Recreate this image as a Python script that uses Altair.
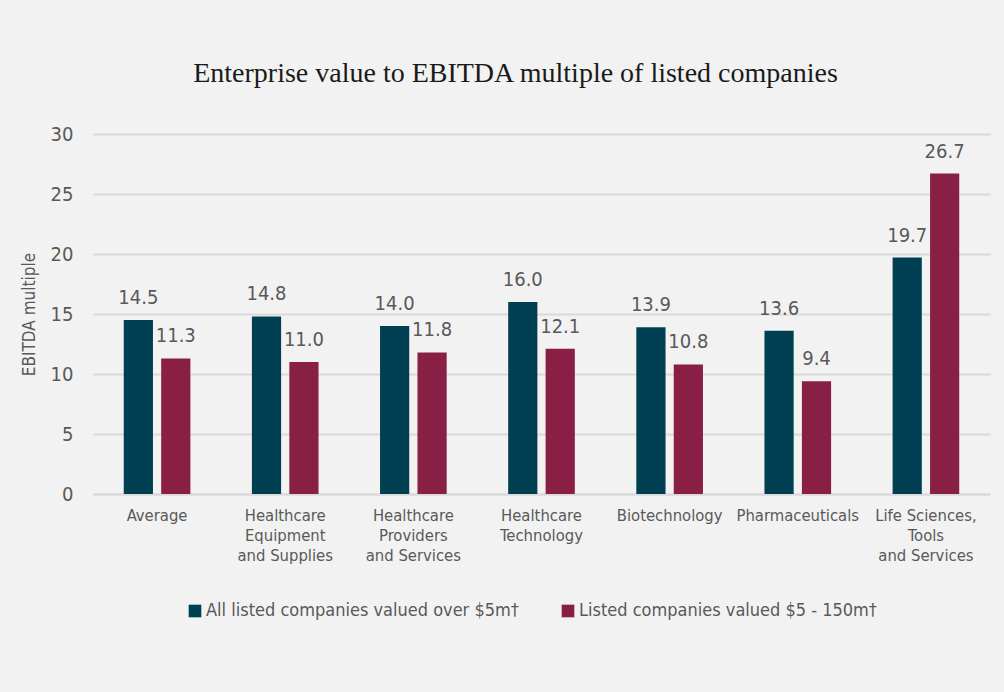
import altair as alt
import pandas as pd

categories = ["Average", "Healthcare|Equipment|and Supplies", "Healthcare|Providers|and Services",
              "Healthcare|Technology", "Biotechnology", "Pharmaceuticals", "Life Sciences,|Tools|and Services"]
series = ["All listed companies valued over $5m†", "Listed companies valued $5 - 150m†"]
all_over_5m = [14.5, 14.8, 14.0, 16.0, 13.9, 13.6, 19.7]
listed_5_150m = [11.3, 11.0, 11.8, 12.1, 10.8, 9.4, 26.7]
colors = ["#003f52", "#8a1f45"]

rows = []
for i, c in enumerate(categories):
    rows.append({"cat": c, "series": series[0], "value": all_over_5m[i]})
    rows.append({"cat": c, "series": series[1], "value": listed_5_150m[i]})
df = pd.DataFrame(rows)

FONT = "Tahoma, DejaVu Sans Condensed, DejaVu Sans"
GREY = "#595959"

x = alt.X("cat:N", sort=categories, title=None,
          scale=alt.Scale(paddingInner=0.48, paddingOuter=0.24),
          axis=alt.Axis(labelExpr="split(datum.label, '|')", labelAngle=0, labelFont=FONT,
                        labelFontSize=16.5, labelColor=GREY, labelLineHeight=20, labelPadding=13,
                        ticks=False, domainColor="#d9d9d9", domainWidth=2, labelLimit=200))
xo = alt.XOffset("series:N", sort=series, scale=alt.Scale(paddingInner=0.22, paddingOuter=0))
y = alt.Y("value:Q", title="EBITDA multiple",
          scale=alt.Scale(domain=[0, 30], nice=False),
          axis=alt.Axis(values=[0, 5, 10, 15, 20, 25, 30], labelFont=FONT, labelFontSize=20,
                        labelColor=GREY, labelPadding=20, ticks=False, domain=False,
                        gridColor="#d9d9d9", gridWidth=2, titleFont=FONT, titleFontSize=17,
                        titleFontWeight="normal", titleColor=GREY, titlePadding=12))

bars = alt.Chart(df).mark_bar().encode(
    x=x, xOffset=xo, y=y,
    color=alt.Color("series:N", sort=series, scale=alt.Scale(domain=series, range=colors),
                    legend=alt.Legend(title=None, orient="none", legendX=93, legendY=468,
                                      direction="horizontal", symbolType="square", symbolSize=160,
                                      labelFont=FONT, labelFontSize=18, labelColor=GREY,
                                      columnPadding=40, labelOffset=2, labelLimit=400))
)
text = alt.Chart(df).mark_text(dy=-22, font=FONT, fontSize=20, color=GREY).encode(
    x=x, xOffset=xo, y=y, text=alt.Text("value:Q", format=".1f")
)

chart = (bars + text).properties(
    width=897, height=360,
    background="#f2f2f2",
    padding={"left": 93, "top": 134, "right": 14, "bottom": 198},
    autosize=alt.AutoSizeParams(type="none"),
    title=alt.TitleParams("Enterprise value to EBITDA multiple of listed companies",
                          font="Liberation Serif", fontSize=28, fontWeight="normal",
                          color="#1a1a1a", anchor="middle", frame="group", dx=-26, offset=36)
).configure_view(stroke=None)

chart.save("out.html", embed_options={"renderer": "svg", "actions": False})
